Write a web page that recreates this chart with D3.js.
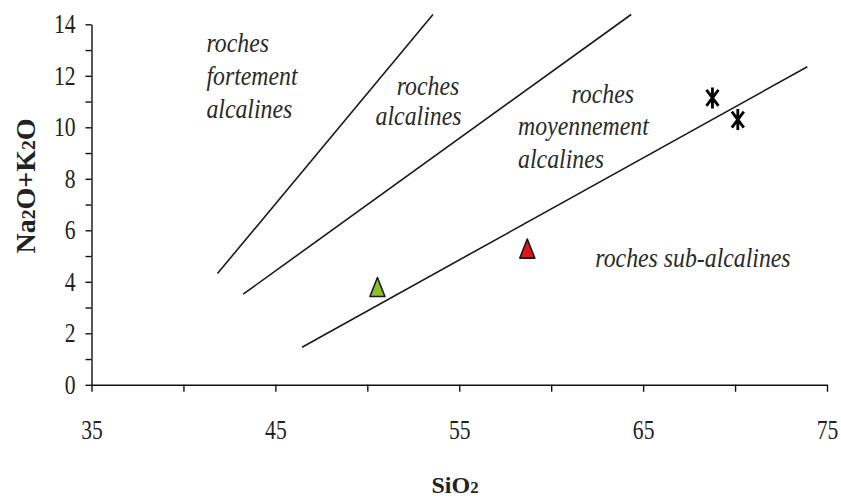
<!DOCTYPE html>
<html>
<head>
<meta charset="utf-8">
<script src="https://cdn.jsdelivr.net/npm/d3@7"></script>
<style>
  html, body { margin: 0; padding: 0; background: #fff; }
  svg { display: block; }
  .axis path, .axis line { stroke: #111; stroke-width: 1.4px; }
  .axis text { font-family: "Liberation Serif", "Times New Roman", serif; fill: #222; }
</style>
</head>
<body>
<svg id="chart" width="841" height="499"></svg>
<script>
// Total alkali (Na2O+K2O) vs SiO2 classification diagram

// Axis ticks
const xTicks = [35, 40, 45, 50, 55, 60, 65, 70, 75];
const xTickLabels = [35, 45, 55, 65, 75];
const yTicks = d3.range(0, 15, 1);
const yTickLabels = [0, 2, 4, 6, 8, 10, 12, 14];

// Boundary lines between alkalinity fields: [SiO2, Na2O+K2O] end points
const boundaryStart = [[41.85, 4.32], [43.25, 3.52], [46.45, 1.46]];
const boundaryEnd   = [[53.57, 14.38], [64.35, 14.38], [73.93, 12.35]];

// Field names and where they sit in data units (left edge, baseline)
const fieldLines = [
  "roches", "fortement", "alcalines",
  "roches", "alcalines",
  "roches", "moyennement", "alcalines",
  "roches sub-alcalines"
];
const fieldX = [41.25, 41.25, 41.25, 51.6, 50.45, 61.1, 58.2, 58.2, 62.4];
const fieldY = [12.92, 11.65, 10.38, 11.25, 10.1, 10.95, 9.7, 8.43, 4.58];

// Samples
const triX = [50.55, 58.7];
const triY = [3.76, 5.25];
const triColor = ["#8fbf2a", "#e3151a"];
const starX = [68.77, 70.15];
const starY = [11.14, 10.3];

const svg = d3.select("#chart");

const x = d3.scaleLinear().domain([35, 75]).range([91.5, 827]);
const y = d3.scaleLinear().domain([0, 14]).range([384.8, 24.3]);

const SX = 0.8;  // narrow face for tick labels
const FX = 0.85; // narrow face for field names

// Y axis
const yAxis = svg.append("g")
  .attr("class", "axis")
  .attr("transform", `translate(${x(35)},0)`)
  .call(d3.axisLeft(y)
    .tickValues(yTicks)
    .tickSize(6)
    .tickSizeOuter(0)
    .tickPadding(10)
    .tickFormat(d => yTickLabels.includes(d) ? d : ""));
yAxis.selectAll("text")
  .attr("font-size", 27)
  .each(function () {
    const t = d3.select(this);
    const tx = +t.attr("x");
    t.attr("x", 0).attr("transform", `translate(${tx},0) scale(${SX},1)`);
  });

// X axis
const xAxis = svg.append("g")
  .attr("class", "axis")
  .attr("transform", `translate(0,${y(0)})`)
  .call(d3.axisBottom(x)
    .tickValues(xTicks)
    .tickSize(7)
    .tickSizeOuter(0)
    .tickPadding(28)
    .tickFormat(d => xTickLabels.includes(d) ? d : ""));
xAxis.selectAll("text")
  .attr("font-size", 27)
  .each(function () {
    const t = d3.select(this);
    const ty = +t.attr("y");
    t.attr("y", 0).attr("transform", `translate(0,${ty}) scale(${SX},1)`);
  });

// Axis titles
const yTitle = svg.append("text")
  .attr("transform", `translate(35,186) rotate(-90)`)
  .attr("text-anchor", "middle")
  .attr("font-family", "Liberation Serif, serif")
  .attr("font-weight", "bold")
  .attr("font-size", 28)
  .attr("fill", "#222");
[["Na", 1], ["2", 0.7], ["O+K", 1], ["2", 0.7], ["O", 1]].forEach(([s, k]) => {
  yTitle.append("tspan").attr("font-size", 28 * k).text(s);
});

const xTitle = svg.append("text")
  .attr("transform", `translate(455,493)`)
  .attr("text-anchor", "middle")
  .attr("font-family", "Liberation Serif, serif")
  .attr("font-weight", "bold")
  .attr("font-size", 24)
  .attr("fill", "#222");
[["SiO", 1], ["2", 0.7]].forEach(([s, k]) => {
  xTitle.append("tspan").attr("font-size", 24 * k).text(s);
});

// Boundary lines
svg.append("g")
  .selectAll("line")
  .data(d3.range(boundaryStart.length))
  .join("line")
  .attr("x1", i => x(boundaryStart[i][0]))
  .attr("y1", i => y(boundaryStart[i][1]))
  .attr("x2", i => x(boundaryEnd[i][0]))
  .attr("y2", i => y(boundaryEnd[i][1]))
  .attr("stroke", "#1a1a1a")
  .attr("stroke-width", 1.6);

// Field names
svg.append("g")
  .selectAll("text")
  .data(fieldLines)
  .join("text")
  .attr("transform", (d, i) => `translate(${x(fieldX[i])},${y(fieldY[i])}) scale(${FX},1)`)
  .attr("font-family", "Liberation Serif, serif")
  .attr("font-style", "italic")
  .attr("font-size", 28)
  .attr("fill", "#2a2a2a")
  .text(d => d);

// Triangle samples
const tri = "M0,-10.5 L7.5,8.5 L-7.5,8.5 Z";
svg.append("g")
  .selectAll("path")
  .data(triX)
  .join("path")
  .attr("d", tri)
  .attr("transform", (d, i) => `translate(${x(triX[i])},${y(triY[i])})`)
  .attr("fill", (d, i) => triColor[i])
  .attr("stroke", "#1a1a1a")
  .attr("stroke-width", 1.6)
  .attr("stroke-linejoin", "round");

// Star samples
const star = "M0,-10.5 L0,10.5 M-6,-8 L6,8 M-6,8 L6,-8";
svg.append("g")
  .selectAll("path")
  .data(starX)
  .join("path")
  .attr("d", star)
  .attr("transform", (d, i) => `translate(${x(starX[i])},${y(starY[i])})`)
  .attr("fill", "none")
  .attr("stroke", "#000")
  .attr("stroke-width", 2.8);
</script>
</body>
</html>
